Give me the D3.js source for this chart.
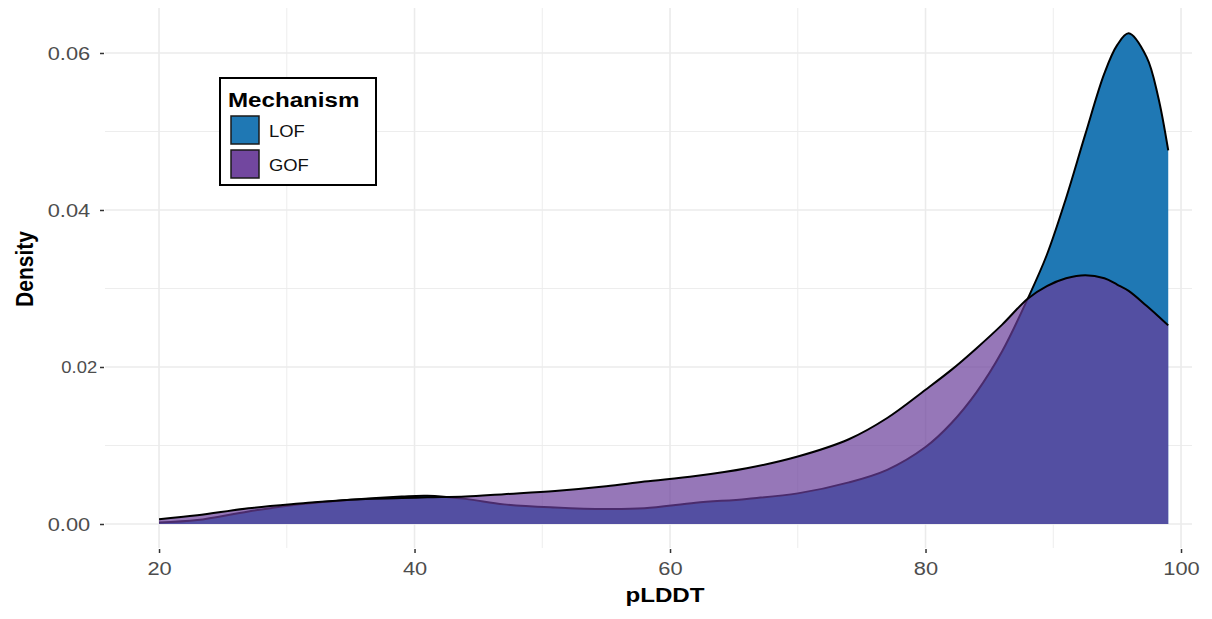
<!DOCTYPE html>
<html lang="en">
<head>
    <meta charset="UTF-8">
    <title>pLDDT density</title>
    <script src="https://d3js.org/d3.v7.min.js"></script>
    <style>
        body { margin: 0; background: #fff; }
        text { font-family: "Liberation Sans", Arial, sans-serif; }
        .tick text { fill: #4d4d4d; font-size: 19px; }
        .tick line { stroke: #333; stroke-width: 1.5; }
        .domain { display: none; }
        .grid line { stroke: #ebebeb; }
    </style>
</head>
<body>
    <svg width="1212" height="619"></svg>
    <script>
        // pLDDT grid and density estimates
        var pldd = [20, 23, 27, 31, 35, 39, 41, 44, 47, 51, 55, 58, 62, 66, 70, 74, 77, 80, 82, 84, 86, 88, 89.5, 91, 92.5, 94, 95, 95.9, 97.3, 98.2, 99];
        var lofDensity = [0.0002, 0.0005, 0.0016, 0.0025, 0.0031, 0.0035, 0.0036, 0.0032, 0.0025, 0.0021, 0.0019, 0.0020, 0.0027, 0.0032, 0.0039, 0.0053, 0.0069, 0.0098, 0.0128, 0.0168, 0.0220, 0.0287, 0.0343, 0.0415, 0.0496, 0.0574, 0.0610, 0.0625, 0.0595, 0.0545, 0.0476];
        var gofDensity = [0.0006, 0.0011, 0.0020, 0.0026, 0.0031, 0.0033, 0.0034, 0.0035, 0.0038, 0.0042, 0.0048, 0.0054, 0.0061, 0.0071, 0.0086, 0.0108, 0.0135, 0.0171, 0.0196, 0.0224, 0.0254, 0.0287, 0.0303, 0.0313, 0.0317, 0.0313, 0.0305, 0.0297, 0.0278, 0.0265, 0.0253];
        var mechanisms = ["LOF", "GOF"];
        var xTicks = [20, 40, 60, 80, 100];
        var xMinor = [30, 50, 70, 90];
        var yTicks = [0, 0.02, 0.04, 0.06];
        var yMinor = [0.01, 0.03, 0.05];

        var svg = d3.select("svg");
        var stretch = "scale(1.15,1)";

        var x = d3.scaleLinear().domain([15.77, 100.86]).range([105, 1192]);
        var y = d3.scaleLinear().domain([-0.003057, 0.06573]).range([548, 8]);

        // grid
        var grid = svg.append("g").attr("class", "grid");
        grid.selectAll(".vmin").data(xMinor).enter().append("line")
            .attr("x1", x).attr("x2", x).attr("y1", 8).attr("y2", 548).attr("stroke-width", 0.9);
        grid.selectAll(".hmin").data(yMinor).enter().append("line")
            .attr("x1", 105).attr("x2", 1192).attr("y1", y).attr("y2", y).attr("stroke-width", 0.9);
        grid.selectAll(".vmaj").data(xTicks).enter().append("line")
            .attr("x1", x).attr("x2", x).attr("y1", 8).attr("y2", 548).attr("stroke-width", 1.6);
        grid.selectAll(".hmaj").data(yTicks).enter().append("line")
            .attr("x1", 105).attr("x2", 1192).attr("y1", y).attr("y2", y).attr("stroke-width", 1.6);

        var series = [
            { key: "LOF", values: lofDensity, fill: "#1f78b4", opacity: 1 },
            { key: "GOF", values: gofDensity, fill: "#6a3d9a", opacity: 0.7 }
        ];

        var curve = d3.curveCatmullRom.alpha(0.5);
        var area = d3.area()
            .x(function(d) { return x(d[0]); })
            .y0(y(0))
            .y1(function(d) { return y(d[1]); })
            .curve(curve);
        var line = d3.line()
            .x(function(d) { return x(d[0]); })
            .y(function(d) { return y(d[1]); })
            .curve(curve);

        series.forEach(function(s) {
            var pts = pldd.map(function(p, i) { return [p, s.values[i]]; });
            svg.append("path").datum(pts)
                .attr("d", area)
                .attr("fill", s.fill)
                .attr("fill-opacity", s.opacity);
            svg.append("path").datum(pts)
                .attr("d", line)
                .attr("fill", "none")
                .attr("stroke", "#000")
                .attr("stroke-width", 2);
        });

        // axes
        var xAxis = svg.append("g")
            .attr("transform", "translate(0,549)")
            .call(d3.axisBottom(x).tickValues(xTicks).tickSize(4).tickPadding(9).tickFormat(d3.format("d")));
        xAxis.selectAll("text").attr("transform", stretch);

        var yAxis = svg.append("g")
            .attr("transform", "translate(104,0)")
            .call(d3.axisLeft(y).tickValues(yTicks).tickSize(4).tickPadding(8).tickFormat(d3.format(".2f")));
        yAxis.selectAll("text").attr("transform", stretch);
        yAxis.selectAll(".tick").filter(function(d) { return d === 0.02; })
            .select("text").style("font-size", "16px").attr("x", -6);

        svg.append("text")
            .attr("transform", "translate(665,601.5) " + stretch)
            .attr("text-anchor", "middle")
            .style("font-size", "21px").style("font-weight", "bold")
            .text("pLDDT");
        svg.append("text")
            .attr("transform", "translate(33,269) " + stretch + " rotate(-90)")
            .attr("text-anchor", "middle")
            .style("font-size", "21px").style("font-weight", "bold")
            .text("Density");

        // legend
        var legend = svg.append("g");
        legend.append("rect")
            .attr("x", 220).attr("y", 78).attr("width", 156).attr("height", 107)
            .attr("fill", "#fff").attr("stroke", "#000").attr("stroke-width", 2);
        legend.append("text")
            .attr("transform", "translate(228,106.5) " + stretch)
            .style("font-size", "21px").style("font-weight", "bold")
            .text("Mechanism");
        var keyFill = { LOF: "#1f78b4", GOF: "#6a3d9a" };
        mechanisms.forEach(function(m, i) {
            legend.append("rect")
                .attr("x", 231).attr("y", 116 + i * 34).attr("width", 28).attr("height", 28)
                .attr("fill", keyFill[m]).attr("fill-opacity", m === "GOF" ? 0.95 : 1)
                .attr("stroke", "#1a1a1a").attr("stroke-width", 1.5);
            legend.append("text")
                .attr("transform", "translate(269," + (136.5 + i * 34) + ") " + stretch)
                .style("font-size", "16px").style("fill", "#111")
                .text(m);
        });
    </script>
</body>
</html>
